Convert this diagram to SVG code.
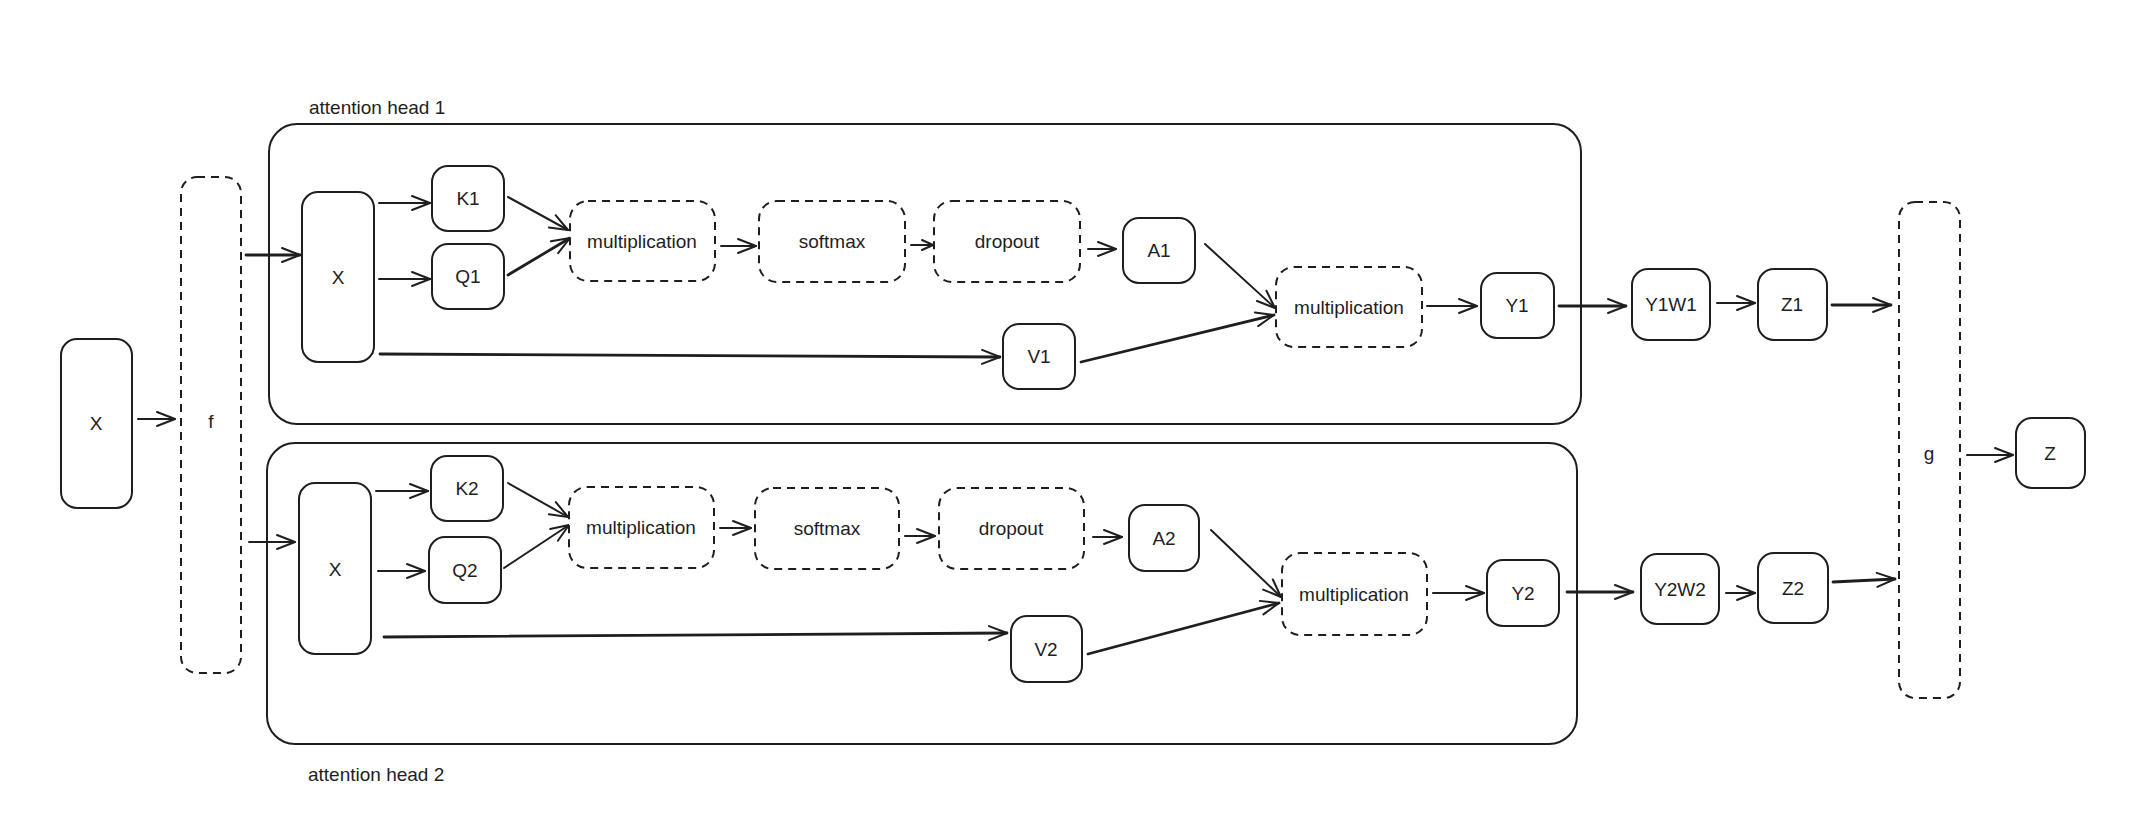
<svg xmlns="http://www.w3.org/2000/svg" width="2132" height="832" viewBox="0 0 2132 832">
<defs>
<style>
.n{fill:#fff;stroke:#1e1e1e;stroke-width:2}
.d{fill:#fff;stroke:#1e1e1e;stroke-width:2;stroke-dasharray:8 6}
.c{fill:none;stroke:#1e1e1e;stroke-width:2}
.t{font-family:"Liberation Sans",Arial,sans-serif;font-size:19px;fill:#1e1e1e;text-anchor:middle;dominant-baseline:central}
.h{font-family:"Liberation Sans",Arial,sans-serif;font-size:19px;fill:#1e1e1e}
.e{fill:none;stroke:#1e1e1e;stroke-width:2;stroke-linecap:round;marker-end:url(#ah)}
.e.k{stroke-width:2.8}
.e.s{marker-end:url(#as)}
</style>
<marker id="ah" viewBox="-22 -11 24 22" refX="0" refY="0" markerWidth="24" markerHeight="22" markerUnits="userSpaceOnUse" orient="auto">
<path d="M-18,-7 L0,0 L-18,7" fill="none" stroke="#1e1e1e" stroke-width="2" stroke-linecap="round" stroke-linejoin="round"/>
</marker>
<marker id="as" viewBox="-14 -8 16 16" refX="0" refY="0" markerWidth="16" markerHeight="16" markerUnits="userSpaceOnUse" orient="auto">
<path d="M-11,-5 L0,0 L-11,5" fill="none" stroke="#1e1e1e" stroke-width="2" stroke-linecap="round" stroke-linejoin="round"/>
</marker>
</defs>
<rect width="2132" height="832" fill="#fff"/>

<g id="head1">
<rect class="c" x="269" y="124" width="1312" height="300" rx="28"/>
<text class="h" x="309" y="114">attention head 1</text>
</g>
<g id="head2">
<rect class="c" x="267" y="443" width="1310" height="301" rx="28"/>
<text class="h" x="308" y="781">attention head 2</text>
</g>

<g id="connectors">
<path class="e" d="M138 419 L175 419"/>
<path class="e k" d="M246 255 L300 255"/>
<path class="e" d="M249 542 L295 542"/>
<path class="e" d="M379 203 L430 203"/>
<path class="e" d="M379 279 L430 279"/>
<path class="e" d="M508 197 L568 230"/>
<path class="e k" d="M508 275 L570 238"/>
<path class="e k" d="M380 354 L1000 357"/>
<path class="e" d="M721 246 L756 246"/>
<path class="e s" d="M911 245 L933 245"/>
<path class="e" d="M1088 249 L1116 249"/>
<path class="e" d="M1205 244 L1275 308"/>
<path class="e k" d="M1081 362 L1274 315"/>
<path class="e" d="M1427 306 L1477 306"/>
<path class="e k" d="M1559 306 L1626 306"/>
<path class="e" d="M1717 303 L1755 303"/>
<path class="e k" d="M1832 305 L1891 305"/>
<path class="e" d="M1967 455 L2013 455"/>
<path class="e" d="M376 491 L428 491"/>
<path class="e" d="M378 571 L425 571"/>
<path class="e" d="M508 483 L568 517"/>
<path class="e" d="M504 568 L569 525"/>
<path class="e k" d="M384 637 L1007 633"/>
<path class="e" d="M720 528 L751 528"/>
<path class="e" d="M905 536 L935 536"/>
<path class="e" d="M1093 537 L1122 537"/>
<path class="e" d="M1211 530 L1281 597"/>
<path class="e k" d="M1088 654 L1279 603"/>
<path class="e" d="M1433 593 L1484 593"/>
<path class="e k" d="M1567 592 L1633 592"/>
<path class="e" d="M1726 593 L1755 593"/>
<path class="e k" d="M1833 582 L1895 579"/>
</g>

<g id="x0"><rect class="n" x="61" y="339" width="71" height="169" rx="16"/><text class="t" x="96" y="423">X</text></g>
<g id="f"><rect class="d" x="181" y="177" width="60" height="496" rx="16"/><text class="t" x="211" y="421">f</text></g>

<g id="h1x"><rect class="n" x="302" y="192" width="72" height="170" rx="16"/><text class="t" x="338" y="277">X</text></g>
<g id="k1"><rect class="n" x="432" y="166" width="72" height="65" rx="16"/><text class="t" x="468" y="198">K1</text></g>
<g id="q1"><rect class="n" x="432" y="244" width="72" height="65" rx="16"/><text class="t" x="468" y="276">Q1</text></g>
<g id="m1a"><rect class="d" x="570" y="201" width="145" height="80" rx="18"/><text class="t" x="642" y="241">multiplication</text></g>
<g id="s1"><rect class="d" x="759" y="201" width="146" height="81" rx="18"/><text class="t" x="832" y="241">softmax</text></g>
<g id="dr1"><rect class="d" x="934" y="201" width="146" height="81" rx="18"/><text class="t" x="1007" y="241">dropout</text></g>
<g id="a1"><rect class="n" x="1123" y="218" width="72" height="65" rx="16"/><text class="t" x="1159" y="250">A1</text></g>
<g id="v1"><rect class="n" x="1003" y="324" width="72" height="65" rx="16"/><text class="t" x="1039" y="356">V1</text></g>
<g id="m1b"><rect class="d" x="1276" y="267" width="146" height="80" rx="18"/><text class="t" x="1349" y="307">multiplication</text></g>
<g id="y1"><rect class="n" x="1481" y="273" width="73" height="65" rx="16"/><text class="t" x="1517" y="305">Y1</text></g>
<g id="y1w1"><rect class="n" x="1632" y="269" width="78" height="71" rx="16"/><text class="t" x="1671" y="304">Y1W1</text></g>
<g id="z1"><rect class="n" x="1758" y="269" width="69" height="71" rx="16"/><text class="t" x="1792" y="304">Z1</text></g>

<g id="g"><rect class="d" x="1899" y="202" width="61" height="496" rx="16"/><text class="t" x="1929" y="453">g</text></g>
<g id="z"><rect class="n" x="2016" y="418" width="69" height="70" rx="16"/><text class="t" x="2050" y="453">Z</text></g>

<g id="h2x"><rect class="n" x="299" y="483" width="72" height="171" rx="16"/><text class="t" x="335" y="569">X</text></g>
<g id="k2"><rect class="n" x="431" y="456" width="72" height="65" rx="16"/><text class="t" x="467" y="488">K2</text></g>
<g id="q2"><rect class="n" x="429" y="537" width="72" height="66" rx="16"/><text class="t" x="465" y="570">Q2</text></g>
<g id="m2a"><rect class="d" x="569" y="487" width="145" height="81" rx="18"/><text class="t" x="641" y="527">multiplication</text></g>
<g id="s2"><rect class="d" x="755" y="488" width="144" height="81" rx="18"/><text class="t" x="827" y="528">softmax</text></g>
<g id="dr2"><rect class="d" x="939" y="488" width="145" height="81" rx="18"/><text class="t" x="1011" y="528">dropout</text></g>
<g id="a2"><rect class="n" x="1129" y="505" width="70" height="66" rx="16"/><text class="t" x="1164" y="538">A2</text></g>
<g id="v2"><rect class="n" x="1011" y="616" width="71" height="66" rx="16"/><text class="t" x="1046" y="649">V2</text></g>
<g id="m2b"><rect class="d" x="1282" y="553" width="145" height="82" rx="18"/><text class="t" x="1354" y="594">multiplication</text></g>
<g id="y2"><rect class="n" x="1487" y="560" width="72" height="66" rx="16"/><text class="t" x="1523" y="593">Y2</text></g>
<g id="y2w2"><rect class="n" x="1641" y="554" width="78" height="70" rx="16"/><text class="t" x="1680" y="589">Y2W2</text></g>
<g id="z2"><rect class="n" x="1758" y="553" width="70" height="70" rx="16"/><text class="t" x="1793" y="588">Z2</text></g>
</svg>
